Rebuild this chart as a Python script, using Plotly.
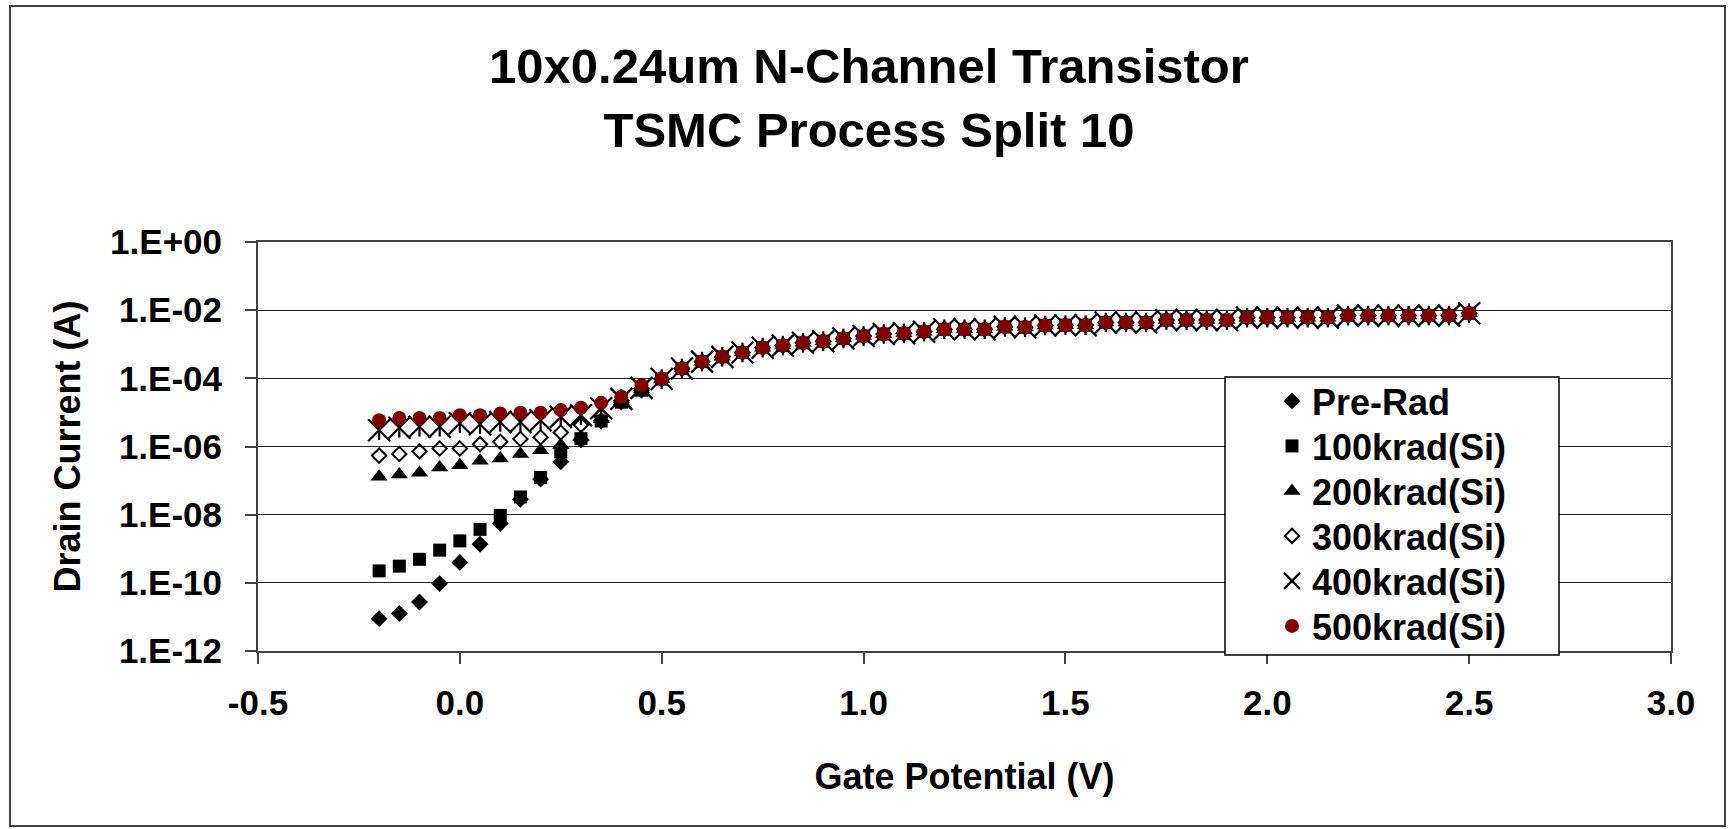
import plotly.graph_objects as go

# ---------------- data ----------------
gate_v = [-0.20, -0.15, -0.10, -0.05, 0.00, 0.05, 0.10, 0.15, 0.20, 0.25,
          0.30, 0.35, 0.40, 0.45, 0.50, 0.55, 0.60, 0.65, 0.70, 0.75,
          0.80, 0.85, 0.90, 0.95, 1.00, 1.05, 1.10, 1.15, 1.20, 1.25,
          1.30, 1.35, 1.40, 1.45, 1.50, 1.55, 1.60, 1.65, 1.70, 1.75,
          1.80, 1.85, 1.90, 1.95, 2.00, 2.05, 2.10, 2.15, 2.20, 2.25,
          2.30, 2.35, 2.40, 2.45, 2.50]

# common (converged) drain current above threshold, Vg = 0.55 ... 2.50
common_tail = [1.95e-4, 3.09e-4, 4.27e-4, 5.75e-4, 7.94e-4, 9.12e-4, 1.10e-3, 1.23e-3, 1.48e-3, 1.74e-3,
               2.00e-3, 2.09e-3, 2.34e-3, 2.75e-3, 2.75e-3, 2.75e-3, 3.24e-3, 3.16e-3, 3.55e-3, 3.63e-3,
               3.63e-3, 4.37e-3, 4.37e-3, 4.37e-3, 5.13e-3, 5.13e-3, 5.13e-3, 5.13e-3, 6.03e-3, 6.03e-3,
               6.03e-3, 6.03e-3, 6.03e-3, 6.92e-3, 6.92e-3, 6.92e-3, 6.92e-3, 6.92e-3, 6.92e-3, 8.13e-3]

# sub-threshold part, Vg = -0.20 ... 0.50
pre_rad_head = [8.9e-12, 1.26e-11, 2.75e-11, 9.5e-11, 3.98e-10, 1.35e-9, 5.5e-9, 2.82e-8, 1.10e-7, 3.55e-7,
                1.58e-6, 5.6e-6, 2.0e-5, 4.5e-5, 9.5e-5]
k100_head = [2.24e-10, 3.09e-10, 4.9e-10, 9.1e-10, 1.70e-9, 3.7e-9, 9.5e-9, 3.3e-8, 1.23e-7, 6.9e-7,
             1.70e-6, 5.6e-6, 2.0e-5, 4.5e-5, 9.5e-5]
k200_head = [1.29e-7, 1.51e-7, 1.70e-7, 2.40e-7, 2.82e-7, 3.8e-7, 4.47e-7, 6.0e-7, 7.8e-7, 1.10e-6,
             1.91e-6, 6.3e-6, 2.09e-5, 4.7e-5, 9.5e-5]
k300_head = [5.4e-7, 6.0e-7, 7.2e-7, 8.7e-7, 8.7e-7, 1.17e-6, 1.38e-6, 1.66e-6, 1.86e-6, 2.57e-6,
             4.27e-6, 7.9e-6, 2.24e-5, 5.0e-5, 9.5e-5]
k400_head = [3.0e-6, 3.55e-6, 3.8e-6, 3.8e-6, 4.8e-6, 4.5e-6, 5.25e-6, 5.25e-6, 5.9e-6, 7.4e-6,
             8.3e-6, 1.32e-5, 2.5e-5, 5.25e-5, 9.5e-5]
k500_head = [5.9e-6, 6.9e-6, 6.9e-6, 6.9e-6, 8.3e-6, 8.3e-6, 9.3e-6, 9.8e-6, 9.8e-6, 1.17e-5,
             1.38e-5, 1.91e-5, 2.88e-5, 6.3e-5, 1.0e-4]

series_names = ["Pre-Rad", "100krad(Si)", "200krad(Si)", "300krad(Si)", "400krad(Si)", "500krad(Si)"]

x_tick_vals = [-0.5, 0.0, 0.5, 1.0, 1.5, 2.0, 2.5, 3.0]
x_tick_text = ["-0.5", "0.0", "0.5", "1.0", "1.5", "2.0", "2.5", "3.0"]
y_tick_vals = [1e0, 1e-2, 1e-4, 1e-6, 1e-8, 1e-10, 1e-12]
y_tick_text = ["1.E+00", "1.E-02", "1.E-04", "1.E-06", "1.E-08", "1.E-10", "1.E-12"]

# ---------------- figure ----------------
FONT = "Liberation Sans, Arial, sans-serif"
W, H = 1729, 829
ML, MR, MT, MB = 258, 58, 242, 178
PW, PH = W - ML - MR, H - MT - MB


def px2paper_x(px):
    return (px - ML) / PW


def px2paper_y(py):
    return (H - MB - py) / PH


legend_ids = ["legend", "legend2", "legend3", "legend4", "legend5", "legend6"]

fig = go.Figure()

fig.add_trace(go.Scatter(x=gate_v, y=pre_rad_head + common_tail, mode="markers", name=series_names[0],
                         legend=legend_ids[0],
                         marker=dict(symbol="diamond", size=13, color="black")))
fig.add_trace(go.Scatter(x=gate_v, y=k100_head + common_tail, mode="markers", name=series_names[1],
                         legend=legend_ids[1],
                         marker=dict(symbol="square", size=13, color="black")))
fig.add_trace(go.Scatter(x=gate_v, y=k200_head + common_tail, mode="markers", name=series_names[2],
                         legend=legend_ids[2],
                         marker=dict(symbol="triangle-up", size=15, color="black")))
fig.add_trace(go.Scatter(x=gate_v, y=k300_head + common_tail, mode="markers", name=series_names[3],
                         legend=legend_ids[3],
                         marker=dict(symbol="diamond-open", size=11, color="black",
                                     line=dict(width=2, color="black"))))
fig.add_trace(go.Scatter(x=gate_v, y=k400_head + common_tail, mode="markers", name=series_names[4],
                         legend=legend_ids[4], legendgroup="k400",
                         marker=dict(symbol="x-thin-open", size=22, color="black",
                                     line=dict(width=2.2, color="black"))))
fig.add_trace(go.Scatter(x=gate_v, y=k400_head + common_tail, mode="markers", name=series_names[4],
                         legend=legend_ids[4], legendgroup="k400", showlegend=False,
                         marker=dict(symbol="line-ns-open", size=14, color="black",
                                     line=dict(width=2.2, color="black"))))
fig.add_trace(go.Scatter(x=gate_v, y=k500_head + common_tail, mode="markers", name=series_names[5],
                         legend=legend_ids[5],
                         marker=dict(symbol="circle", size=14, color="#800000")))

# legend frame (white box with black border)
fig.add_shape(type="rect", xref="paper", yref="paper", layer="above",
              x0=px2paper_x(1225), x1=px2paper_x(1559), y0=px2paper_y(655), y1=px2paper_y(377),
              fillcolor="white", line=dict(color="black", width=1.5))
# outer chart frame
fig.add_shape(type="rect", xref="paper", yref="paper", layer="above",
              x0=px2paper_x(10), x1=px2paper_x(1725), y0=px2paper_y(826), y1=px2paper_y(6),
              fillcolor="rgba(0,0,0,0)", line=dict(color="#404040", width=2))

legend_font = dict(family=FONT, size=36, color="black", weight="bold")
legend_layout = {}
for i, lid in enumerate(legend_ids):
    legend_layout[lid] = dict(x=px2paper_x(1272), xanchor="left",
                              y=px2paper_y(401 + 45.0 * i), yanchor="middle",
                              bgcolor="rgba(0,0,0,0)", borderwidth=0,
                              font=legend_font, itemsizing="trace")

fig.update_layout(
    width=W, height=H,
    margin=dict(l=ML, r=MR, t=MT, b=MB, autoexpand=False),
    paper_bgcolor="white", plot_bgcolor="white",
    font=dict(family=FONT, color="black", size=34, weight="bold"),
    title=dict(text="10x0.24um N-Channel Transistor<br>TSMC Process Split 10",
               font=dict(family=FONT, size=49, color="black", weight="bold"),
               x=869 / W, xref="container", xanchor="center",
               y=1 - 83 / H, yref="container", yanchor="middle"),
    showlegend=True,
    xaxis=dict(range=[-0.5, 3.0], tickvals=x_tick_vals, ticktext=x_tick_text,
               showgrid=False, zeroline=False,
               showline=True, linecolor="#404040", linewidth=2, mirror=True,
               ticks="outside", ticklen=11, tickwidth=1.5, tickcolor="#404040",
               ticklabelstandoff=9,
               tickfont=dict(family=FONT, size=35, color="black", weight="bold"),
               title=dict(text="Gate Potential (V)", standoff=43,
                          font=dict(family=FONT, size=36, color="black", weight="bold"))),
    yaxis=dict(type="log", range=[-12, 0], tickvals=y_tick_vals, ticktext=y_tick_text,
               showgrid=True, gridcolor="#222222", gridwidth=1.2, zeroline=False,
               showline=True, linecolor="#404040", linewidth=2, mirror=True,
               ticks="outside", ticklen=11, tickwidth=1.5, tickcolor="#404040",
               ticklabelstandoff=16,
               tickfont=dict(family=FONT, size=35, color="black", weight="bold"),
               title=dict(text="Drain Current (A)", standoff=18,
                          font=dict(family=FONT, size=36, color="black", weight="bold"))),
    **legend_layout,
)

fig.write_html("out.html")
